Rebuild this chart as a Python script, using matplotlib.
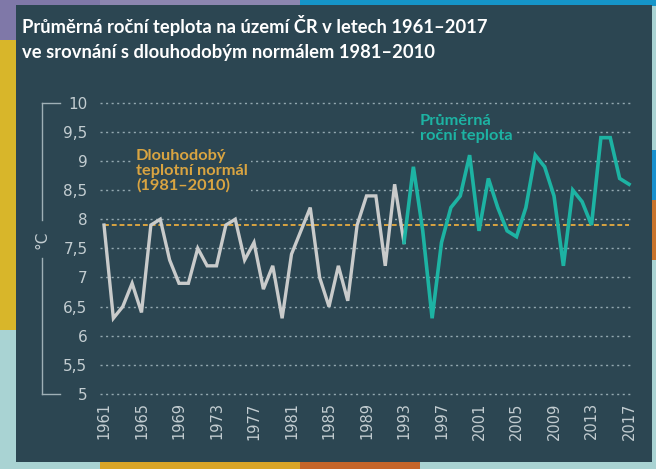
import matplotlib
matplotlib.use("Agg")
import matplotlib.pyplot as plt
from matplotlib.patches import Rectangle
from matplotlib.ticker import FuncFormatter

years_gray = list(range(1961, 1994))
temps_gray = [7.9, 6.3, 6.5, 6.9, 6.4, 7.9, 8.0, 7.3, 6.9, 6.9, 7.5, 7.2, 7.2, 7.9, 8.0,
              7.3, 7.6, 6.8, 7.2, 6.3, 7.4, 7.8, 8.2, 7.0, 6.5, 7.2, 6.6, 7.9, 8.4, 8.4,
              7.2, 8.6, 7.6]
years_teal = list(range(1993, 2018))
temps_teal = [7.6, 8.9, 7.8, 6.3, 7.6, 8.2, 8.4, 9.1, 7.8, 8.7, 8.2, 7.8, 7.7, 8.2, 9.1,
              8.9, 8.4, 7.2, 8.5, 8.3, 7.9, 9.4, 9.4, 8.7, 8.6]
normal_value = 7.9
normal_years = [1961, 2017]
yticks = [5, 5.5, 6, 6.5, 7, 7.5, 8, 8.5, 9, 9.5, 10]
xticks = list(range(1961, 2018, 4))

BG = "#2c4652"
GRAY = "#c9cbcb"
TEAL = "#1db3a3"
ORANGE = "#d9a441"
TXT = "#c3cdd1"

fig = plt.figure(figsize=(6.56, 4.69), dpi=100)
fig.patch.set_facecolor("#a9d3d3")
W, H = 656, 469
def frect(x0, y0, x1, y1, c):
    fig.patches.append(Rectangle((x0 / W, 1 - y1 / H), (x1 - x0) / W, (y1 - y0) / H,
                                 transform=fig.transFigure, facecolor=c, edgecolor="none", zorder=-10))
frect(0, 0, 120, 40, "#7f78a8")
frect(0, 40, 16, 330, "#d8b62a")
frect(100, 0, 300, 6, "#8c86b0")
frect(300, 0, 656, 6, "#1595c9")
frect(652, 150, 656, 200, "#1890cf")
frect(652, 200, 656, 260, "#c8742c")
frect(100, 462, 300, 469, "#d9a427")
frect(300, 462, 420, 469, "#c5652a")
# dark panel
frect(16, 5, 652, 462, BG)

ax = fig.add_axes([100 / W, 1 - 394 / H, 531 / W, (394 - 102.7) / H])
ax.set_facecolor(BG)
ax.patch.set_alpha(0)
for s in ax.spines.values():
    s.set_visible(False)
ax.set_xlim(1961 - 4 / 9.375, 2017 + 2 / 9.375)
ax.set_ylim(5, 10)
ax.set_yticks(yticks)
ax.yaxis.set_major_formatter(FuncFormatter(lambda v, p: ("%g" % v).replace(".", ",")))
ax.set_xticks(xticks)
ax.tick_params(axis="both", length=0, colors=TXT, labelsize=11)
ax.tick_params(axis="y", pad=9)
ax.tick_params(axis="x", pad=6, labelsize=10.5)
for lab in ax.get_xticklabels():
    lab.set_rotation(90)
for y in yticks:
    ax.axhline(y, color="#93a8b0", lw=1.0, ls=(0, (1.5, 2.5)), zorder=1, clip_on=False)

ax.plot(normal_years, [normal_value] * 2, color=ORANGE, lw=1.4, ls=(0, (2.5, 1.5)), zorder=2)
ax.plot(years_gray, temps_gray, color=GRAY, lw=2.4, zorder=3, clip_on=False, solid_joinstyle="miter")
ax.plot(years_teal, temps_teal, color=TEAL, lw=2.6, zorder=4, clip_on=False, solid_joinstyle="miter")

fam = ["Lato", "DejaVu Sans"]
ax.text(1964.4, 9.2, "Dlouhodobý\nteplotní normál\n(1981–2010)", color=ORANGE, fontsize=11.8,
        fontweight="bold", family=fam, va="top", ha="left", linespacing=1.05, zorder=5,
        bbox=dict(facecolor=BG, edgecolor="none", pad=2))
ax.text(1994.7, 9.8, "Průměrná\nroční teplota", color=TEAL, fontsize=11.8,
        fontweight="bold", family=fam, va="top", ha="left", linespacing=1.05, zorder=5,
        bbox=dict(facecolor=BG, edgecolor="none", pad=2))

fig.text(22 / W, 1 - 15 / H, "Průměrná roční teplota na území ČR v letech 1961–2017\nve srovnání s dlouhodobým normálem 1981–2010",
         color="white", fontsize=13.2, fontweight="bold", family=fam, va="top", ha="left",
         linespacing=1.6)

# bracket with °C
bx = 42 / W
fig.add_artist(plt.Line2D([bx, bx], [1 - 102.7 / H, 1 - 220 / H], color="#9fb0b6", lw=1, transform=fig.transFigure))
fig.add_artist(plt.Line2D([bx, bx], [1 - 258 / H, 1 - 394 / H], color="#9fb0b6", lw=1, transform=fig.transFigure))
fig.add_artist(plt.Line2D([bx, 60 / W], [1 - 102.7 / H] * 2, color="#9fb0b6", lw=1, transform=fig.transFigure))
fig.add_artist(plt.Line2D([bx, 60 / W], [1 - 394 / H] * 2, color="#9fb0b6", lw=1, transform=fig.transFigure))
fig.text(bx, 1 - 240 / H, "°C", color=TXT, fontsize=11, rotation=90, ha="center", va="center")

fig.savefig("out.png", dpi=100, facecolor=fig.get_facecolor())
